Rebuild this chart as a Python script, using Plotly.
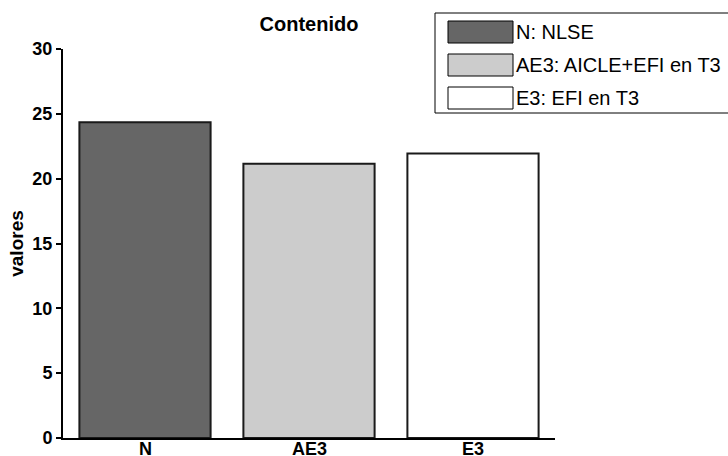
import plotly.graph_objects as go

categories = ["N", "AE3", "E3"]
values = [24.35, 21.15, 21.95]
legend_labels = ["N: NLSE", "AE3: AICLE+EFI en T3", "E3: EFI en T3"]
colors = ["#666666", "#cccccc", "#ffffff"]
y_ticks = [0, 5, 10, 15, 20, 25, 30]

FONT = "Arial, Liberation Sans, sans-serif"

W, H = 728, 456
L, R, T, B = 63, 173, 49, 18
PW, PH = W - L - R, H - T - B

def px(x):
    return (x - L) / PW

def py(y):
    return (H - B - y) / PH

fig = go.Figure()
fig.add_trace(go.Bar(
    x=categories, y=values, width=0.8,
    marker=dict(color=colors, line=dict(color="#1a1a1a", width=2)),
    showlegend=False, hoverinfo="x+y",
))

shapes = []
annotations = []
# legend box
shapes.append(dict(type="rect", xref="paper", yref="paper",
                   x0=px(435), x1=px(745), y0=py(113), y1=py(13),
                   line=dict(color="black", width=1), fillcolor="white", layer="above"))
row_y = [32, 65, 98]
for lab, col, yc in zip(legend_labels, colors, row_y):
    shapes.append(dict(type="rect", xref="paper", yref="paper",
                       x0=px(448), x1=px(513), y0=py(yc + 11), y1=py(yc - 11),
                       line=dict(color="black", width=1), fillcolor=col, layer="above"))
    annotations.append(dict(text=lab, xref="paper", yref="paper", x=px(514), y=py(yc),
                            xanchor="left", yanchor="middle", showarrow=False,
                            font=dict(family=FONT, size=20, color="black")))

# category labels under the axis
for cat in categories:
    annotations.append(dict(text=cat, xref="x", yref="paper", x=cat, y=py(460),
                            xanchor="center", yanchor="bottom", showarrow=False,
                            borderpad=0,
                            font=dict(family=FONT, size=18, color="black", weight="bold")))

fig.update_layout(
    width=W, height=H,
    margin=dict(l=L, r=R, t=T, b=B, pad=0),
    paper_bgcolor="white", plot_bgcolor="white",
    title=dict(text="Contenido", xref="paper", x=px(309), xanchor="center",
               y=1 - 24 / H, yanchor="middle",
               font=dict(family=FONT, size=20, color="black", weight="bold")),
    font=dict(family=FONT, size=18, color="black"),
    bargap=0.2,
    shapes=shapes,
    annotations=annotations,
    showlegend=False,
)
fig.update_xaxes(
    range=[-0.5, 2.5], showline=True, linecolor="black", linewidth=2,
    ticks="", showgrid=False, zeroline=False, automargin=False,
    showticklabels=False,
)
fig.update_yaxes(
    range=[0, 30], tickvals=y_ticks, showline=True, linecolor="black", linewidth=2,
    ticks="outside", ticklen=5, tickwidth=1.5, tickcolor="black",
    showgrid=False, zeroline=False, automargin=False,
    tickfont=dict(family=FONT, size=18, color="black", weight="bold"),
    title=dict(text="valores", font=dict(family=FONT, size=19, color="black", weight="bold"), standoff=4),
)

fig.write_html("out.html", config={"displayModeBar": False},
               post_script="document.body.style.margin='0';document.body.style.overflow='hidden';")
